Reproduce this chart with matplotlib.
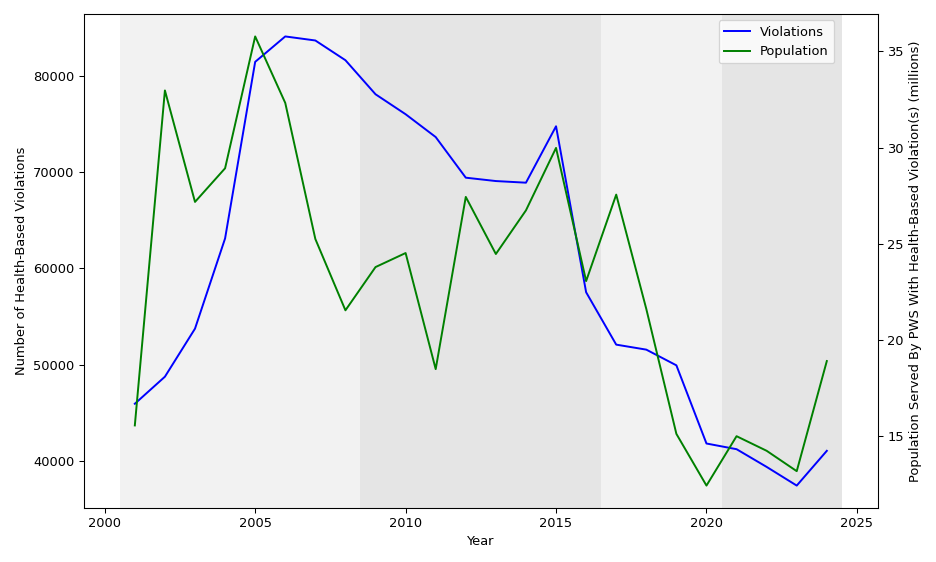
import matplotlib
matplotlib.use("Agg")
import matplotlib.pyplot as plt

years = list(range(2001, 2025))
violations = [45930, 48740, 53730, 63100, 81440, 84080, 83660, 81610, 78075, 76000,
              73630, 69410, 69060, 68890, 74750, 57510, 52070, 51550, 49920, 41800,
              41210, 39370, 37430, 41040]
population = [15.54, 32.97, 27.17, 28.92, 35.78, 32.32, 25.24, 21.53, 23.78, 24.51,
              18.47, 27.43, 24.46, 26.73, 29.98, 23.05, 27.55, 21.6, 15.1, 12.41,
              14.98, 14.22, 13.16, 18.89]
terms = [(2000.5, 2008.5, 0.1), (2008.5, 2016.5, 0.2), (2016.5, 2020.5, 0.1), (2020.5, 2024.5, 0.2)]

fig, ax1 = plt.subplots(figsize=(10, 6.005), dpi=93.6)
for start, end, a in terms:
    ax1.axvspan(start, end, color="gray", alpha=a, lw=0)
l1, = ax1.plot(years, violations, color="blue", label="Violations")
ax1.set_xlabel("Year")
ax1.set_ylabel("Number of Health-Based Violations")
ax2 = ax1.twinx()
l2, = ax2.plot(years, population, color="green", label="Population")
ax2.set_ylabel("Population Served By PWS With Health-Based Violation(s) (millions)")
ax2.legend(handles=[l1, l2], loc="upper right")
fig.subplots_adjust(left=0.0894, right=0.938, bottom=0.096, top=0.975)
# shift legend so its right edge sits where the reference has it
ax2.get_legend().set_bbox_to_anchor((0.953, 1.0), transform=ax2.transAxes)
fig.savefig("out.png", dpi=93.6)
